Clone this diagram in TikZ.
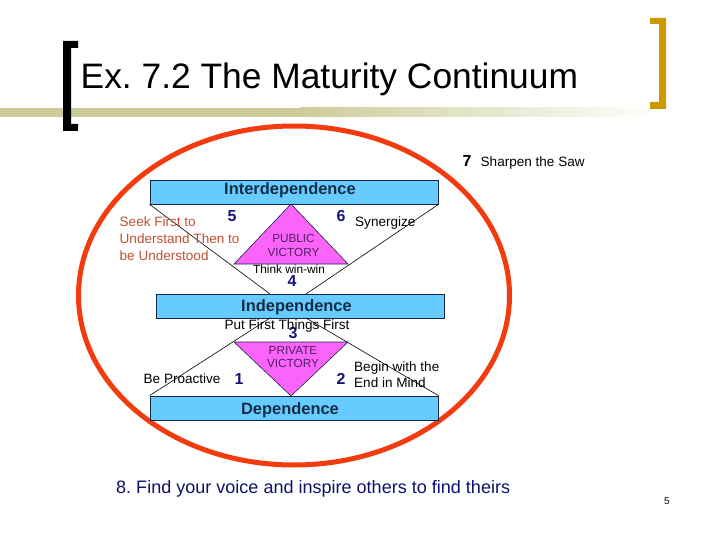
\documentclass[tikz,border=0pt]{standalone}
\usepackage{fontspec}
\setmainfont{Liberation Sans}
\frenchspacing
\definecolor{boxblue}{RGB}{102,204,255}
\definecolor{boxedge}{RGB}{20,40,70}
\definecolor{boxtextc}{RGB}{20,45,70}
\definecolor{numnavy}{RGB}{20,20,120}
\definecolor{trifill}{RGB}{250,100,250}
\definecolor{tritext}{RGB}{80,30,100}
\definecolor{seekc}{RGB}{190,80,50}
\definecolor{ringred}{RGB}{242,60,15}
\definecolor{bargold}{RGB}{204,153,0}
\definecolor{barolive}{RGB}{204,204,153}
\definecolor{bottomnavy}{RGB}{15,15,110}
\begin{document}
\begin{tikzpicture}[x=1bp,y=-1bp,
  box/.style={draw=boxedge, fill=boxblue, line width=0.8bp, minimum width=288bp, minimum height=24bp, inner sep=0pt},
  boxlabel/.style={anchor=base, inner sep=0pt, text=boxtextc, font=\fontsize{16.5}{18}\selectfont\bfseries},
  num/.style={anchor=base, inner sep=0pt, text=numnavy, font=\fontsize{16}{18}\selectfont\bfseries},
  habit/.style={inner sep=0pt, font=\fontsize{13.6}{17}\selectfont},
  victory/.style={anchor=base, inner sep=0pt, text=tritext, font=\fontsize{11.8}{13}\selectfont},
  tri/.style={draw=boxedge, fill=trifill, line width=0.6bp},
  thin/.style={draw=black, line width=0.6bp}]
\useasboundingbox (0,0) rectangle (720,540);
% title bar
\fill[barolive] (0,108) rectangle (300,117);
\shade[left color=barolive, right color=white] (300,108) rectangle (660,117);
% brackets
\fill[black] (78,41) -- (63,41) -- (63,131) -- (78,131) -- (78,124) -- (71,124) -- (71,48) -- (78,48) -- cycle;
\fill[bargold] (650,18) -- (666,18) -- (666,109) -- (650,109) -- (650,102) -- (659,102) -- (659,24) -- (650,24) -- cycle;
\node[anchor=base west, inner sep=0pt, font=\fontsize{35.5}{40}\selectfont] (title) at (80.5,89) {Ex. 7.2 The Maturity Continuum};
% ring
\draw[ringred, line width=5bp] (294,295.5) ellipse [x radius=215.5, y radius=169.5];
% boxes
\node[box] (inter) at (294,192) {};
\node[box] (indep) at (300,306) {};
\node[box] (dep) at (294,408) {};
\node[boxlabel] (interT) at (290,195) {Interdependence};
\node[boxlabel] (indepT) at (296.5,311) {Independence};
\node[boxlabel] (depT) at (290,414) {Dependence};
% connector points
\coordinate (ul) at (270,294);
\coordinate (ur) at (306,294);
\coordinate (ll) at (270,318);
\coordinate (lr) at (306,318);
\draw[thin] (inter.south west) -- (ul);
\draw[thin] (inter.south east) -- (ur);
\draw[thin] (dep.north west) -- (ll);
\draw[thin] (dep.north east) -- (lr);
% triangles
\coordinate (pubA) at (291,204);
\coordinate (pubL) at (234,264);
\coordinate (pubR) at (348,264);
\coordinate (priA) at (291,396);
\coordinate (priL) at (234,342);
\coordinate (priR) at (348,342);
\draw[tri] (pubA) -- (pubL) -- (pubR) -- cycle;
\draw[tri] (priA) -- (priL) -- (priR) -- cycle;
\node[victory] (pub1) at (293.5,243) {PUBLIC};
\node[victory] (pub2) at (293.5,257) {VICTORY};
\node[victory] (pri1) at (293,354) {PRIVATE};
\node[victory] (pri2) at (293,367) {VICTORY};
% numbers
\node[num] (n5) at (232,222) {5};
\node[num] (n6) at (341,222) {6};
\node[num] (n4) at (292,287) {4};
\node[num] (n3) at (293,338) {3};
\node[num] (n1) at (239,384) {1};
\node[num] (n2) at (341,384) {2};
\node[anchor=base, inner sep=0pt, font=\fontsize{16}{18}\selectfont\bfseries] (n7) at (467,166.5) {7};
% habits
\node[habit, anchor=base west, text=seekc] (seek1) at (119.5,227) {Seek First to};
\node[habit, anchor=base west, text=seekc] (seek2) at (119.5,244) {Understand Then to};
\node[habit, anchor=base west, text=seekc] (seek3) at (119.5,261) {be Understood};
\node[habit, anchor=base west] (syn) at (355,227) {Synergize};
\node[anchor=base, inner sep=0pt, font=\fontsize{11.9}{13}\selectfont] (think) at (289,274) {Think win-win};
\node[habit, anchor=base] (put) at (287,329) {Put First Things First};
\node[habit, anchor=base west] (pro) at (143.5,383) {Be Proactive};
\node[habit, anchor=base west] (begin1) at (354,371) {Begin with the};
\node[habit, anchor=base west] (begin2) at (354,387) {End in Mind};
\node[habit, anchor=base west] (saw) at (480.5,166.5) {Sharpen the Saw};
% bottom
\node[anchor=base west, inner sep=0pt, text=bottomnavy, font=\fontsize{18.1}{20}\selectfont] (voice) at (116,493) {8. Find your voice and inspire others to find theirs};
\node[anchor=base, inner sep=0pt, font=\fontsize{10}{12}\selectfont] (page) at (667,504) {5};
\end{tikzpicture}
\end{document}
